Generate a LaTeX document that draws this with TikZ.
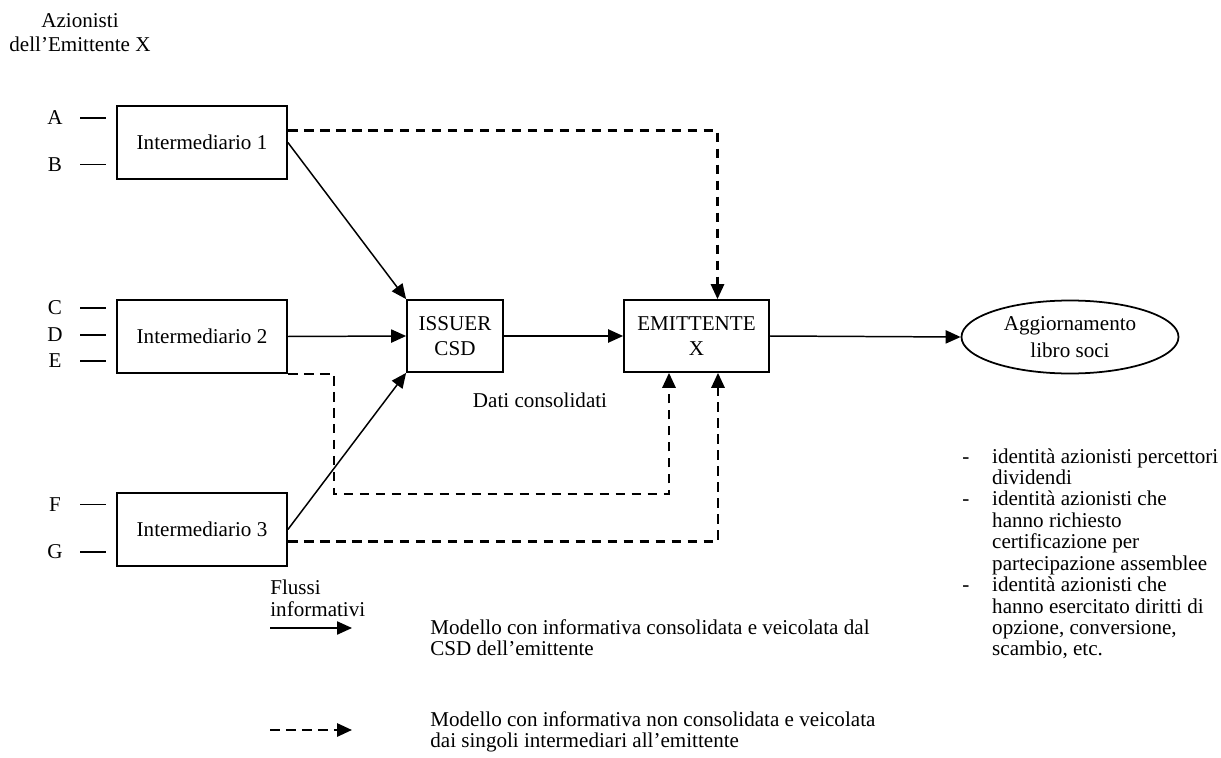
\documentclass[tikz,border=0pt]{standalone}
\usepackage{fontspec}
\setmainfont{Liberation Serif}
\usepackage{tikz}
\usetikzlibrary{arrows.meta, shapes.geometric, calc}
\usetikzlibrary{positioning}
\newcommand{\flowTip}{Triangle[length=8.5pt,width=7.5pt]}
\tikzset{
    txt/.style = {font=\fontsize{12}{14}\selectfont, inner sep=0pt},
    lst/.style = {txt, anchor=north west, align=left, font=\fontsize{12}{12.2}\selectfont},
    box/.style = {draw, line width=1pt, txt, align=center, minimum height=1.46cm},
    interm/.style = {box, minimum width=3.4cm},
    flow/.style = {line width=0.85pt, -{\flowTip}},
    dflow/.style = {flow, line width=1.3pt, dash pattern=on 5.5pt off 3.6pt}
}

\begin{document}
\begin{tikzpicture}
                \useasboundingbox (0,0) rectangle (24.42,-15.16);
                % shareholders and their intermediaries
                \node[txt, align=center] (azionisti) at (1.6,-0.65) {Azionisti\\dell'Emittente X};
                \node[interm] (int1) at (4.04,-2.85) {Intermediario 1};
                \node[interm] (int2) at (4.04,-6.73) {Intermediario 2};
                \node[interm] (int3) at (4.04,-10.59) {Intermediario 3};
                \foreach \l/\y in {A/2.36, B/3.29, C/6.16, D/6.70, E/7.22, F/10.09, G/11.04} {
                    \node[txt] (s\l) at (1.1,-\y) {\l};
                    \draw[line width=1.1pt] (1.6,-\y) -- (2.12,-\y);
                }
                
                % CSD, issuer and register
                \node[box, minimum width=1.92cm, minimum height=1.44cm] (iss) at (9.1,-6.72) {ISSUER\\CSD};
                \node[box, minimum width=2.9cm, minimum height=1.44cm] (emi) at (13.93,-6.72) {EMITTENTE\\X};
                \node[draw, ellipse, line width=1pt, txt, align=center, minimum width=4.34cm, minimum height=1.46cm,
                      font=\fontsize{12}{15}\selectfont] (libro) at (21.4,-6.74) {Aggiornamento\\libro soci};
                \node[txt] (dati) at (10.8,-8.0) {Dati consolidati};
                
                % consolidated flows
                \draw[flow] (int1.east) -- (iss.north west);
                \draw[flow] (int2.east) -- (iss.west);
                \draw[flow] (int3.east) -- (iss.south west);
                \draw[flow] (iss.east) -- (emi.west);
                \draw[flow] (emi.east) -- (libro.west);
                
                % direct flows
                \draw[dflow] ([yshift=0.24cm]int1.east) -| ([xshift=0.42cm]emi.north);
                \draw[dflow] (int2.south east) -- ++(0.92,0) -- ++(0,-2.4) -| ([xshift=-0.55cm]emi.south);
                \draw[dflow] ([yshift=-0.24cm]int3.east) -| ([xshift=0.43cm]emi.south);
                
                % list of data
                \node[lst] (datilist) at (19.24,-8.96) {%
                    \makebox[17pt][l]{-}identità azionisti percettori\\
                    \hspace*{17pt}dividendi\\
                    \makebox[17pt][l]{-}identità azionisti che\\
                    \hspace*{17pt}hanno richiesto\\
                    \hspace*{17pt}certificazione per\\
                    \hspace*{17pt}partecipazione assemblee\\
                    \makebox[17pt][l]{-}identità azionisti che\\
                    \hspace*{17pt}hanno esercitato diritti di\\
                    \hspace*{17pt}opzione, conversione,\\
                    \hspace*{17pt}scambio, etc.};
                
                % legend
                \node[lst] (flussi) at (5.4,-11.6) {Flussi\\informativi};
                \coordinate (leg1) at (5.4,-12.56);
                \coordinate (leg2) at (5.4,-14.6);
                \draw[flow] (leg1) -- ++(1.64,0);
                \draw[dflow] (leg2) -- ++(1.64,0);
                \node[lst] (leg1txt) at (8.6,-12.38) {Modello con informativa consolidata e veicolata dal\\CSD dell'emittente};
                \node[lst] (leg2txt) at (8.6,-14.22) {Modello con informativa non consolidata e veicolata\\dai singoli intermediari all'emittente};
        \end{tikzpicture}
\end{document}
